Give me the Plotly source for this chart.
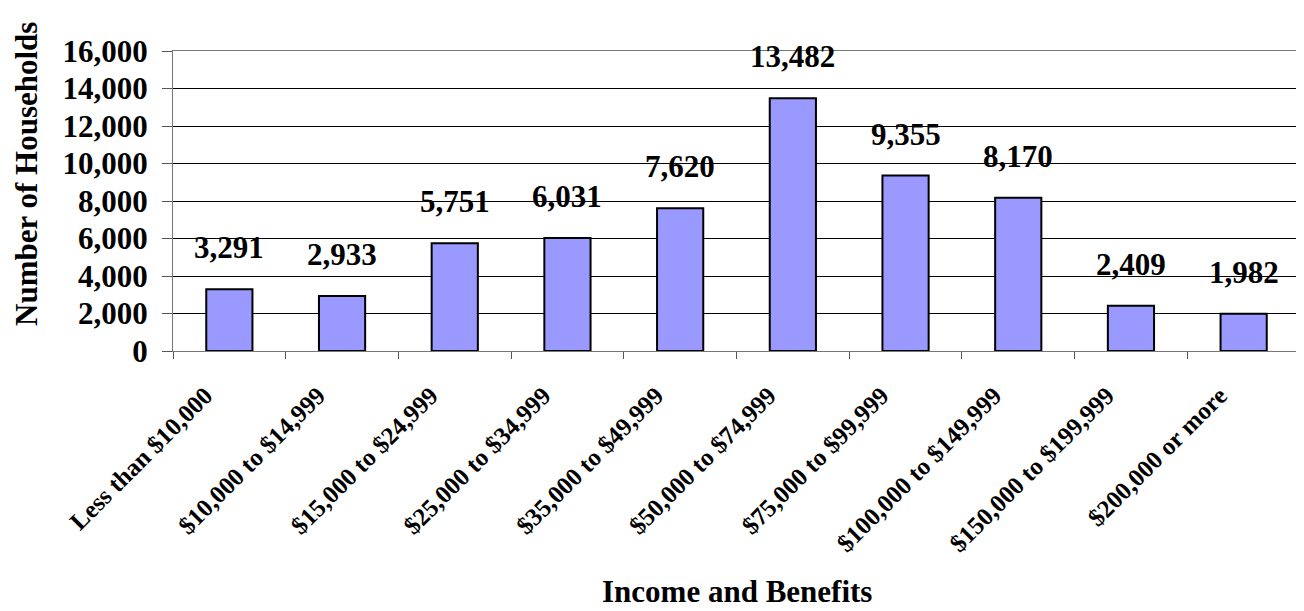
import plotly.graph_objects as go

categories = ["Less than $10,000", "$10,000 to $14,999", "$15,000 to $24,999",
              "$25,000 to $34,999", "$35,000 to $49,999", "$50,000 to $74,999",
              "$75,000 to $99,999", "$100,000 to $149,999", "$150,000 to $199,999",
              "$200,000 or more"]
households = [3291, 2933, 5751, 6031, 7620, 13482, 9355, 8170, 2409, 1982]
y_ticks = [0, 2000, 4000, 6000, 8000, 10000, 12000, 14000, 16000]

font = "Liberation Serif, Times New Roman, serif"

fig = go.Figure()
fig.add_trace(go.Bar(
    x=categories, y=households,
    marker=dict(color="#9999FF", line=dict(color="black", width=2)),
    width=0.41,
))

for c, v in zip(categories, households):
    fig.add_annotation(x=c, y=v, text=f"{v:,}", showarrow=False,
                       yanchor="bottom", yshift=22,
                       font=dict(family=font, size=31, color="black", weight="bold"))

fig.add_annotation(xref="paper", yref="paper", x=0.5, y=-0.80, text="Income and Benefits",
                   showarrow=False, xanchor="center", yanchor="middle",
                   font=dict(family=font, size=31, color="black", weight="bold"))
fig.add_annotation(xref="paper", yref="paper", x=-0.1305, y=0.59, text="Number of Households",
                   showarrow=False, xanchor="center", yanchor="middle", textangle=-90,
                   font=dict(family=font, size=31, color="black", weight="bold"))

fig.update_layout(
    width=1304, height=611,
    margin=dict(l=165, r=12, t=43, b=268),
    plot_bgcolor="white", paper_bgcolor="white",
    showlegend=False,
    font=dict(family=font, color="black"),
)
fig.update_xaxes(
    automargin=False,
    tickangle=-45, tickfont=dict(family=font, size=25, color="black", weight="bold"),
    ticklabelstandoff=19, ticklabelshift=-24,
    showline=True, linecolor="#777", linewidth=1, mirror=True,
    ticks="outside", ticklen=7, tickcolor="#555", tickson="boundaries",
)
fig.update_yaxes(
    automargin=False,
    range=[0, 16000], tickvals=y_ticks, tickformat=",",
    tickfont=dict(family=font, size=31, color="black", weight="bold"),
    ticklabelstandoff=8,
    showgrid=True, gridcolor="black", gridwidth=1,
    showline=True, linecolor="#777", linewidth=1, mirror=True,
    ticks="outside", ticklen=10, tickcolor="#555",
    zeroline=False,
)

fig.write_html("out.html")
